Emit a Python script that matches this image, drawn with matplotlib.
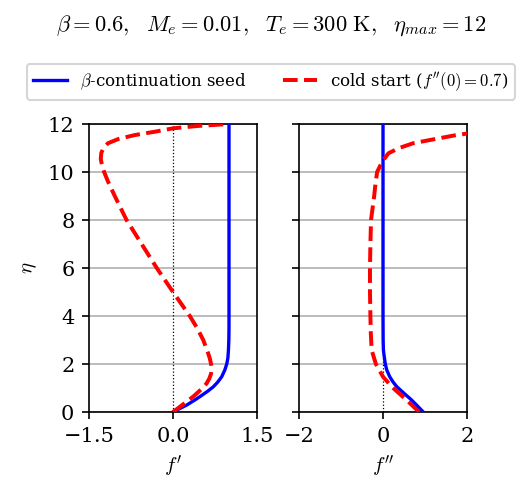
import numpy as np
import matplotlib
matplotlib.use("Agg")
import matplotlib.pyplot as plt

plt.rcParams['font.family'] = 'serif'
plt.rcParams['mathtext.fontset'] = 'cm'
plt.rcParams['font.size'] = 10

# --- data ---
# beta-continuation seed: f'
eta_seed_fp = [0, 0.29, 0.5, 0.64, 0.85, 1.05, 1.25, 1.47, 1.75, 2.0, 2.25, 2.58, 3.0, 3.5, 4.0, 6.0, 8.0, 10.0, 12.0]
fp_seed = [0, 0.245, 0.39, 0.48, 0.61, 0.72, 0.80, 0.87, 0.925, 0.96, 0.98, 0.99, 0.997, 1.0, 1.0, 1.0, 1.0, 1.0, 1.0]

# beta-continuation seed: f''
eta_seed_fpp = [0, 0.25, 0.5, 0.75, 1.05, 1.25, 1.47, 1.75, 2.0, 2.3, 2.58, 3.0, 4.0, 6.0, 8.0, 10.0, 12.0]
fpp_seed = [0.96, 0.82, 0.68, 0.52, 0.33, 0.24, 0.16, 0.09, 0.055, 0.03, 0.01, 0.003, 0, 0, 0, 0, 0]

# cold start: f'
eta_cold_fp = [0, 0.22, 0.64, 1.0, 1.19, 1.4, 1.6, 1.8, 2.0, 2.25, 2.5, 3.0, 3.5, 4.0, 5.0, 6.0, 7.0, 8.0, 9.0,
               9.6, 10.0, 10.3, 10.55, 10.8, 11.0, 11.2, 11.38, 11.54, 11.68, 11.82, 11.92, 12.0]
fp_cold = [0, 0.125, 0.36, 0.53, 0.60, 0.65, 0.68, 0.69, 0.68, 0.655, 0.62, 0.54, 0.43, 0.30, 0.0, -0.29, -0.56, -0.83, -1.04,
           -1.16, -1.23, -1.27, -1.29, -1.28, -1.24, -1.16, -0.97, -0.68, -0.32, 0.0, 0.45, 1.0]

# cold start: f''
eta_cold_fpp = [0, 0.25, 0.5, 0.75, 1.05, 1.47, 2.0, 2.58, 3.28, 4.0, 5.0, 6.0, 7.0, 8.0, 9.0, 9.5, 10.0,
                10.43, 10.78, 10.99, 11.2, 11.36, 11.54, 11.6, 11.8, 12.0]
fpp_cold = [0.86, 0.71, 0.56, 0.40, 0.21, 0.0, -0.17, -0.27, -0.29, -0.30, -0.31, -0.31, -0.30, -0.285, -0.21, -0.18, -0.14,
            -0.02, 0.13, 0.37, 0.72, 1.2, 1.75, 2.0, 3.5, 6.0]

eta_ticks = [0, 2, 4, 6, 8, 10, 12]
fp_ticks = [-1.5, 0.0, 1.5]
fpp_ticks = [-2, 0, 2]

fig = plt.figure(figsize=(529/150, 498/150), dpi=150)
ax1 = fig.add_axes([89/529, 1-412/498, 168/529, 288/498])
ax2 = fig.add_axes([299/529, 1-412/498, 168/529, 288/498], sharey=ax1)

for ax in (ax1, ax2):
    ax.axvline(0, color='k', lw=0.6, ls=':', zorder=1)
    ax.grid(True, axis='y', color='#b0b0b0', lw=0.8)
    ax.set_axisbelow(True)

l1, = ax1.plot(fp_seed, eta_seed_fp, color='blue', lw=1.6, label=r'$\beta$-continuation seed', zorder=3)
l2, = ax1.plot(fp_cold, eta_cold_fp, color='red', lw=1.9, ls='--', label=r"cold start ($f''(0)=0.7$)", zorder=3)
ax2.plot(fpp_seed, eta_seed_fpp, color='blue', lw=1.6, zorder=3)
ax2.plot(fpp_cold, eta_cold_fpp, color='red', lw=1.9, ls='--', zorder=3)

ax1.set_xlim(-1.5, 1.5)
ax1.set_xticks(fp_ticks)
ax1.set_ylim(0, 12)
ax1.set_yticks(eta_ticks)
ax2.set_xlim(-2, 2)
ax2.set_xticks(fpp_ticks)
ax2.tick_params(labelleft=False)

ax1.set_xlabel(r"$f'$")
ax2.set_xlabel(r"$f''$")
ax1.set_ylabel(r"$\eta$")

fig.suptitle(r"$\beta=0.6,\ \ M_e=0.01,\ \ T_e=300\ \mathrm{K},\ \ \eta_{max}=12$", x=0.513, y=0.948, va='center', fontsize=10.8)
fig.legend(handles=[l1, l2], loc='center', bbox_to_anchor=(0.512, 0.836), ncol=2, fontsize=8,
           columnspacing=2.2)

fig.savefig('out.png', dpi=150)
